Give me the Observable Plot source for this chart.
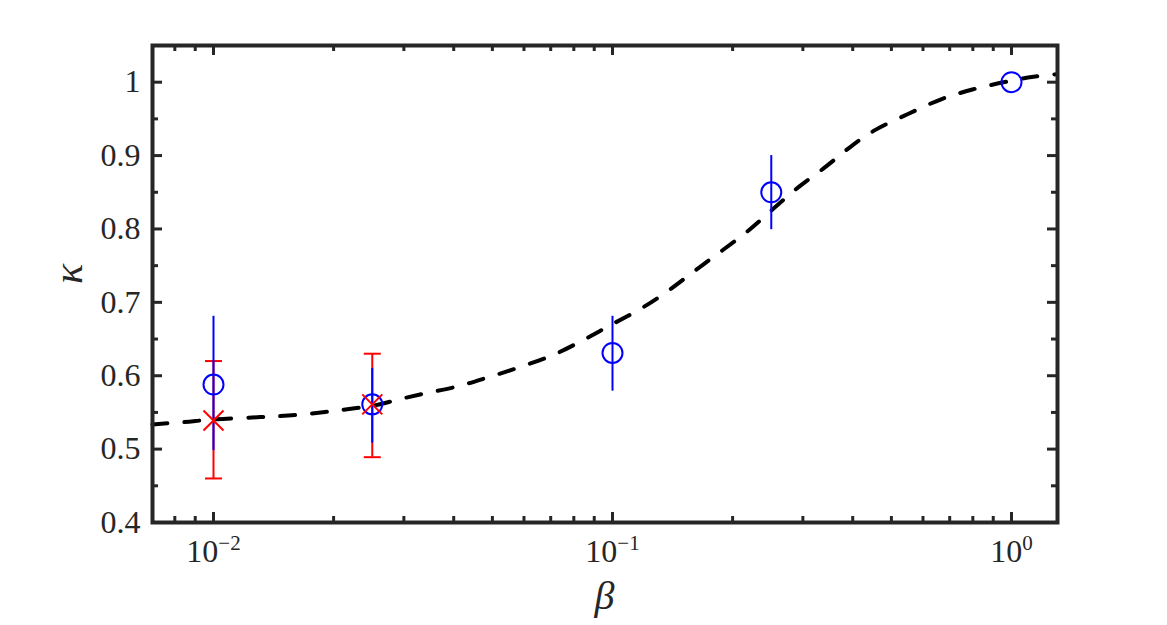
<!DOCTYPE html>
<html>
<head>
<meta charset="utf-8">
<script src="https://cdn.jsdelivr.net/npm/d3@7"></script>
<script src="https://cdn.jsdelivr.net/npm/@observablehq/plot@0.6"></script>
<style>
  html, body { margin: 0; padding: 0; background: #fff; }
  #chart svg { display: block; }
  #xlabel {
    width: 1167px; height: 53px; box-sizing: border-box;
    padding-left: 152px; padding-right: 110px;
    text-align: center; line-height: 47px;
    font-family: "Liberation Serif", "DejaVu Serif", serif; font-style: italic; font-size: 40px; color: #262626;
  }
</style>
</head>
<body>
<div id="chart"></div>
<div id="xlabel"></div>
<script>
// ---- data ----
const curveBeta  = [0.00703, 0.00841, 0.01, 0.0131, 0.0165, 0.0205, 0.0258, 0.0289, 0.0336, 0.0409, 0.0489, 0.0588, 0.0708, 0.0841, 0.0989, 0.1175, 0.1381, 0.1614, 0.1887, 0.2193, 0.2533, 0.2925, 0.3418, 0.3950, 0.456, 0.552, 0.664, 0.798, 0.994, 1.135, 1.30];
const curveKappa = [0.5336, 0.5368, 0.5405, 0.5436, 0.5469, 0.5527, 0.5605, 0.5673, 0.5755, 0.5855, 0.598, 0.612, 0.628, 0.648, 0.669, 0.691, 0.716, 0.7437, 0.771, 0.798, 0.8278, 0.857, 0.8845, 0.912, 0.935, 0.957, 0.9764, 0.990, 1.0018, 1.0073, 1.011];

const blueBeta  = [0.01, 0.025, 0.1, 0.25, 1];
const blueKappa = [0.588, 0.561, 0.631, 0.850, 1.0];
const blueLow   = [0.498, 0.508, 0.579, 0.799, null];
const blueHigh  = [0.681, 0.610, 0.681, 0.900, null];

const redBeta  = [0.01, 0.025];
const redKappa = [0.539, 0.561];
const redLow   = [0.460, 0.489];
const redHigh  = [0.620, 0.630];

const xMajorTicks = [0.01, 0.1, 1];
const xTickLabels = ["10^−2", "10^−1", "10^0"];
const xMinorTicks = [0.008, 0.009, 0.02, 0.03, 0.04, 0.05, 0.06, 0.07, 0.08, 0.09, 0.2, 0.3, 0.4, 0.5, 0.6, 0.7, 0.8, 0.9];
const yMajorTicks = [0.4, 0.5, 0.6, 0.7, 0.8, 0.9, 1.0];
const yTickLabels = ["0.4", "0.5", "0.6", "0.7", "0.8", "0.9", "1"];
const yMinorTicks = [0.45, 0.55, 0.65, 0.75, 0.85, 0.95];

const xTitle = "β";
const yTitle = "κ";

// ---- tables ----
const curve = curveBeta.map((b, i) => ({beta: b, kappa: curveKappa[i]}));
const blue = blueBeta.map((b, i) => ({beta: b, kappa: blueKappa[i], lo: blueLow[i], hi: blueHigh[i]}));
const blueBars = blue.filter(d => d.lo != null);
const red = redBeta.map((b, i) => ({beta: b, kappa: redKappa[i], lo: redLow[i], hi: redHigh[i]}));

// ---- layout ----
const W = 1167, H = 572;
const mL = 152, mR = 110, mT = 45, mB = 50;
const fw = W - mL - mR, fh = H - mT - mB;
const majorLen = 10, minorLen = 6;
const ink = "#262626";
const serif = "Liberation Serif";

const capSymbol = {
  draw(ctx, size) { const h = Math.sqrt(size / Math.PI); ctx.moveTo(-h, 0); ctx.lineTo(h, 0); }
};
const crossSymbol = {
  draw(ctx, size) { const h = Math.sqrt(size / Math.PI); ctx.moveTo(-h, -h); ctx.lineTo(h, h); ctx.moveTo(-h, h); ctx.lineTo(h, -h); }
};

const tickFmtX = d => xTickLabels[xMajorTicks.indexOf(d)];
const tickFmtY = d => yTickLabels[yMajorTicks.findIndex(v => Math.abs(v - d) < 1e-9)];
const tickStyle = {stroke: ink, strokeWidth: 3, strokeLinecap: "butt"};

const chart = Plot.plot({
  width: W, height: H,
  marginLeft: mL, marginRight: mR, marginTop: mT, marginBottom: mB,
  x: {type: "log", domain: [0.007033, 1.304], label: null},
  y: {domain: [0.4, 1.05], label: null},
  style: `font-family: "Liberation Serif", serif; font-size: 32px; color: ${ink}; background: #fff; overflow: visible;`,
  marks: [
    // inward ticks on all four sides
    Plot.ruleX(xMajorTicks, {x: d => d, insetTop: fh - majorLen, ...tickStyle}),
    Plot.ruleX(xMajorTicks, {x: d => d, insetBottom: fh - majorLen, ...tickStyle}),
    Plot.ruleX(xMinorTicks, {x: d => d, insetTop: fh - minorLen, ...tickStyle}),
    Plot.ruleX(xMinorTicks, {x: d => d, insetBottom: fh - minorLen, ...tickStyle}),
    Plot.ruleY(yMajorTicks, {y: d => d, insetRight: fw - majorLen, ...tickStyle}),
    Plot.ruleY(yMajorTicks, {y: d => d, insetLeft: fw - majorLen, ...tickStyle}),
    Plot.ruleY(yMinorTicks, {y: d => d, insetRight: fw - minorLen, ...tickStyle}),
    Plot.ruleY(yMinorTicks, {y: d => d, insetLeft: fw - minorLen, ...tickStyle}),

    Plot.axisX(xMajorTicks, {tickSize: 0, tickPadding: 17, tickFormat: tickFmtX, label: null, fill: ink, fontFamily: serif, fontSize: 32}),
    Plot.axisY(yMajorTicks, {tickSize: 0, tickPadding: 12, tickFormat: tickFmtY, label: null, fill: ink, fontFamily: serif, fontSize: 32}),

    // fitted curve
    Plot.line(curve, {x: "beta", y: "kappa", stroke: "#000", strokeWidth: 4, strokeDasharray: "15,17", curve: "catmull-rom"}),

    // red error bars with caps
    Plot.ruleX(red, {x: "beta", y1: "lo", y2: "hi", stroke: "#ff0000", strokeWidth: 2}),
    Plot.dot(red, {x: "beta", y: "lo", r: 8.5, symbol: capSymbol, stroke: "#ff0000", strokeWidth: 2, fill: "none"}),
    Plot.dot(red, {x: "beta", y: "hi", r: 8.5, symbol: capSymbol, stroke: "#ff0000", strokeWidth: 2, fill: "none"}),

    // blue error bars and circles
    Plot.ruleX(blueBars, {x: "beta", y1: "lo", y2: "hi", stroke: "#0000ff", strokeWidth: 2}),
    Plot.dot(blue, {x: "beta", y: "kappa", r: 10, stroke: "#0000ff", strokeWidth: 2, fill: "none"}),

    // red crosses
    Plot.dot(red, {x: "beta", y: "kappa", r: 10, symbol: crossSymbol, stroke: "#ff0000", strokeWidth: 2, fill: "none"}),

    // y-axis title
    Plot.text([yTitle], {text: d => d, frameAnchor: "left", dx: -84, rotate: -90, fontStyle: "italic", fontFamily: serif, fontSize: 42, fill: ink}),

    Plot.frame({stroke: ink, strokeWidth: 4})
  ]
});

// superscripts for the log-axis labels
const ns = "http://www.w3.org/2000/svg";
chart.querySelectorAll('g[aria-label="x-axis tick label"] text').forEach(t => {
  const parts = t.textContent.split("^");
  if (parts.length !== 2) return;
  t.textContent = "";
  const a = document.createElementNS(ns, "tspan");
  a.textContent = parts[0];
  const b = document.createElementNS(ns, "tspan");
  b.setAttribute("font-size", "21");
  b.setAttribute("dy", "-12");
  b.textContent = parts[1];
  t.append(a, b);
});

document.getElementById("chart").append(chart);
document.getElementById("xlabel").textContent = xTitle;
</script>
</body>
</html>
